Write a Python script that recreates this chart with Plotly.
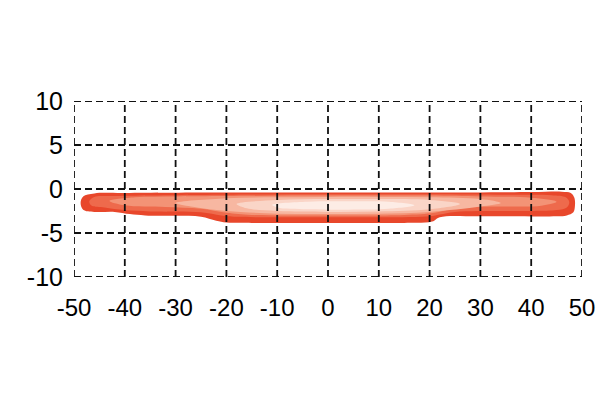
import plotly.graph_objects as go

# Axis ticks
x_ticks = [-50, -40, -30, -20, -10, 0, 10, 20, 30, 40, 50]
y_ticks = [-10, -5, 0, 5, 10]

# Beam-pattern layers (outer -> inner): boundary x/y points
layer1_x = [-48.7, -48.2, -46.0, -40.0, -20.0, 0.0, 20.0, 40.0, 46.0, 47.8, 48.5, 48.6,
            48.3, 47.0, 45.0, 30.0, 22.0, 20.5, 15.0, 0.0, -15.0, -20.0, -22.0, -25.0,
            -30.0, -36.0, -39.0, -42.0, -46.0, -48.2]
layer1_y = [-1.6, -0.85, -0.5, -0.45, -0.4, -0.4, -0.4, -0.35, -0.3, -0.45, -1.0, -2.0,
            -2.65, -3.0, -3.1, -3.1, -3.2, -3.7, -3.85, -3.85, -3.85, -3.8, -3.6, -3.15,
            -3.05, -3.0, -2.85, -2.6, -2.6, -2.35]

layer2_x = [-47.0, -46.0, -43.0, -30.0, -20.0, 0.0, 20.0, 35.0, 44.0, 46.8, 47.5,
            47.0, 45.0, 35.0, 25.0, 22.0, 20.0, 0.0, -18.0, -21.0, -25.0, -35.0, -40.0,
            -44.0, -46.5]
layer2_y = [-1.4, -0.9, -0.8, -0.7, -0.65, -0.6, -0.6, -0.65, -0.7, -0.95, -1.5,
            -2.1, -2.4, -2.5, -2.6, -2.9, -3.1, -3.2, -3.15, -3.0, -2.65, -2.55, -2.4,
            -2.1, -1.9]

layer3_x = [-43.0, -38.0, -30.0, -20.0, 0.0, 20.0, 30.0, 40.0, 45.0,
            42.0, 32.0, 25.0, 21.0, 15.0, 0.0, -15.0, -20.0, -25.0, -32.0, -40.0]
layer3_y = [-1.35, -0.95, -0.85, -0.8, -0.75, -0.75, -0.85, -1.0, -1.45,
            -1.9, -2.0, -2.2, -2.7, -2.95, -3.0, -2.95, -2.7, -2.25, -2.05, -1.85]

layer4_x = [-30.0, -20.0, -10.0, 0.0, 10.0, 20.0, 30.0, 34.0,
            30.0, 20.0, 10.0, 0.0, -10.0, -20.0, -27.0]
layer4_y = [-1.6, -1.05, -0.95, -0.9, -0.9, -0.95, -1.15, -1.6,
            -2.0, -2.6, -2.8, -2.85, -2.8, -2.5, -2.0]

layer5_x = [-18.0, -10.0, 0.0, 10.0, 20.0, 26.0, 20.0, 10.0, 0.0, -10.0, -16.0]
layer5_y = [-1.7, -1.25, -1.15, -1.15, -1.25, -1.7, -2.3, -2.55, -2.6, -2.5, -2.2]

layer6_x = [-11.0, -4.0, 4.0, 12.0, 17.0, 12.0, 4.0, -4.0, -10.0]
layer6_y = [-1.8, -1.45, -1.4, -1.45, -1.85, -2.25, -2.35, -2.3, -2.1]

layers = [
    (layer1_x, layer1_y, "#e8472b"),
    (layer2_x, layer2_y, "#ee6a4c"),
    (layer3_x, layer3_y, "#f39376"),
    (layer4_x, layer4_y, "#f7b7a1"),
    (layer5_x, layer5_y, "#fad5c7"),
    (layer6_x, layer6_y, "#fdece5"),
]

fig = go.Figure()
for lx, ly, col in layers:
    fig.add_trace(go.Scatter(
        x=lx + [lx[0]], y=ly + [ly[0]], mode="lines", fill="toself",
        fillcolor=col, line=dict(color=col, width=0, shape="spline", smoothing=1.0),
        hoverinfo="skip", showlegend=False))

grid_style = dict(color="#111111", width=1.8, dash="7px,4px")
shapes = []
for xv in x_ticks:
    shapes.append(dict(type="line", xref="x", yref="y", x0=xv, x1=xv,
                       y0=y_ticks[0], y1=y_ticks[-1], line=grid_style, layer="above"))
for yv in y_ticks:
    shapes.append(dict(type="line", xref="x", yref="y", x0=x_ticks[0], x1=x_ticks[-1],
                       y0=yv, y1=yv, line=grid_style, layer="above"))

fig.update_layout(
    width=615, height=415,
    margin=dict(l=66, r=41, t=93, b=146),
    paper_bgcolor="white", plot_bgcolor="white",
    shapes=shapes,
    xaxis=dict(range=[-50, 50], tickvals=x_ticks, ticktext=[str(v) for v in x_ticks],
               showgrid=False, zeroline=False, showline=False, ticks="",
               ticklabelstandoff=14,
               tickfont=dict(family="Liberation Sans Narrow, Arial Narrow, Liberation Sans, Arial",
                             size=24, color="black")),
    yaxis=dict(range=[-10, 10], tickvals=y_ticks, ticktext=[str(v) for v in y_ticks],
               showgrid=False, zeroline=False, showline=False, ticks="",
               ticklabelstandoff=10,
               tickfont=dict(family="Liberation Sans, Arial", size=25, color="black")),
)

fig.write_html("out.html")
